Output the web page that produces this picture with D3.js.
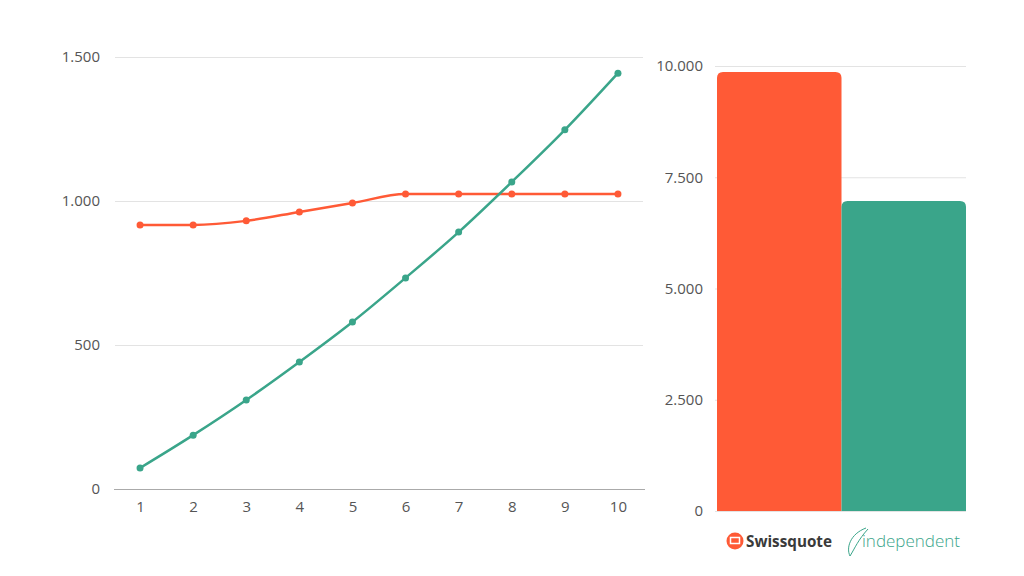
<!DOCTYPE html><html><head><meta charset="utf-8">
<script src="https://cdn.jsdelivr.net/npm/d3@7"></script>
<style>body{margin:0;background:#fff}text{font-family:"Open Sans",sans-serif}</style></head><body>
<svg id="c" width="1024" height="576"></svg>
<script>
const years=[1,2,3,4,5,6,7,8,9,10];
const swissquote=[917,917,931,962,993,1024,1024,1024,1024,1024];
const independent=[73,187,309,441,580,733,892,1066,1247,1444];
const lineTicks=[0,500,1000,1500];
const barCats=["Swissquote","independent"];
const barVals=[9865,6966];
const barTicks=[0,2500,5000,7500,10000];
const RED="#FF5A36",GREEN="#3AA58A";
const fmt=d=>d3.format(",")(d).replace(/,/g,".");
const svg=d3.select("#c");
const x=d3.scalePoint().domain(years).range([113.5,644.5]).padding(0.5);
const y=d3.scaleLinear().domain([0,1500]).range([489,57]);
const gy=svg.append("g").attr("transform","translate(115,0)").call(d3.axisLeft(y).tickValues(lineTicks).tickFormat(fmt).tickSize(-528).tickPadding(15));
gy.select(".domain").remove();
gy.selectAll("line").attr("stroke","#e3e3e3");
gy.selectAll("text").attr("fill","#555").attr("font-size",15);
const gx=svg.append("g").attr("transform","translate(0,489)").call(d3.axisBottom(x).tickSize(0).tickPadding(12));
gx.select(".domain").attr("stroke","#aaa");
gx.selectAll("text").attr("fill","#555").attr("font-size",15);
[[swissquote,RED],[independent,GREEN]].forEach(([s,c])=>{
 svg.append("path").datum(s).attr("fill","none").attr("stroke",c).attr("stroke-width",2.5)
  .attr("d",d3.line().x((d,i)=>x(years[i])).y(d=>y(d)).curve(d3.curveMonotoneX));
 svg.selectAll(null).data(s).enter().append("circle").attr("cx",(d,i)=>x(years[i])).attr("cy",d=>y(d)).attr("r",3.5).attr("fill",c);
});
const xb=d3.scaleBand().domain(barCats).range([717,966]).padding(0);
const yb=d3.scaleLinear().domain([0,10000]).range([511,66]);
const gyb=svg.append("g").attr("transform","translate(715,0)").call(d3.axisLeft(yb).tickValues(barTicks).tickFormat(fmt).tickSize(-251).tickPadding(12));
gyb.select(".domain").remove();
gyb.selectAll("line").attr("stroke","#e3e3e3");
gyb.selectAll("text").attr("fill","#555").attr("font-size",15);
const r=6;
svg.selectAll(null).data(barVals).enter().append("path")
 .attr("fill",(d,i)=>i?GREEN:RED)
 .attr("d",(d,i)=>{const x0=xb(barCats[i]),w=xb.bandwidth(),t=yb(d),b=yb(0);
  return `M${x0},${b}V${t+r}Q${x0},${t} ${x0+r},${t}H${x0+w-r}Q${x0+w},${t} ${x0+w},${t+r}V${b}Z`;});
const lg=svg.append("g");
lg.append("circle").attr("cx",735).attr("cy",541).attr("r",8.5).attr("fill",RED);
lg.append("rect").attr("x",730.5).attr("y",537.5).attr("width",9).attr("height",6).attr("fill","none").attr("stroke","#fff").attr("stroke-width",1.5);
lg.append("text").attr("x",746).attr("y",547).attr("font-size",16).attr("font-weight",700).attr("fill","#3a3a3a").attr("textLength",86).attr("lengthAdjust","spacingAndGlyphs").text("Swissquote");
lg.append("path").attr("d","M866,528 C850,534 846,548 850,556 C855,548 858,540 868,529").attr("fill","none").attr("stroke",GREEN).attr("stroke-width",1);
lg.append("text").attr("x",862).attr("y",547).attr("font-size",16).attr("font-weight",300).attr("fill",GREEN).attr("textLength",98).attr("lengthAdjust","spacingAndGlyphs").text("independent");
</script></body></html>
